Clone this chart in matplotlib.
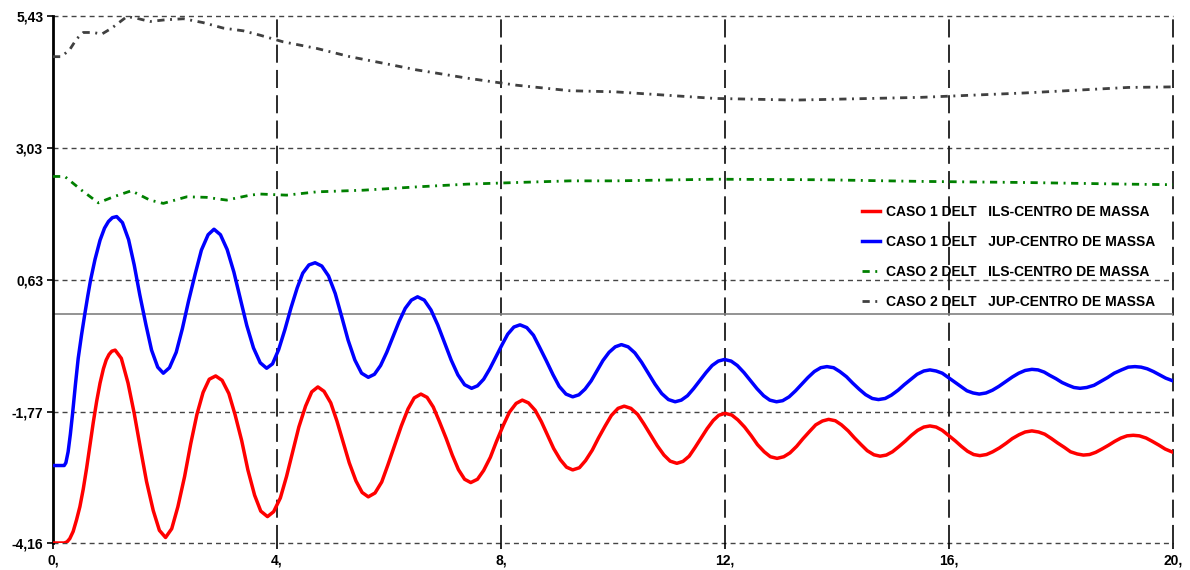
import matplotlib
matplotlib.use("Agg")
import matplotlib.pyplot as plt

plt.rcParams["font.family"] = ["Liberation Sans", "DejaVu Sans"]

# CASO 1 DELT ILS-CENTRO DE MASSA (red)
ils1_x = [0.00, 0.20, 0.25, 0.30, 0.36, 0.42, 0.48, 0.54, 0.60, 0.66, 0.72, 0.78, 0.84, 0.90, 0.95, 1.00, 1.05, 1.11,
          1.22, 1.34, 1.45, 1.56, 1.67, 1.79, 1.90, 2.01,
          2.12, 2.23, 2.35, 2.46, 2.57, 2.68, 2.79, 2.905,
          3.02, 3.14, 3.25, 3.37, 3.48, 3.60, 3.71, 3.83,
          3.94, 4.06, 4.17, 4.28, 4.39, 4.51, 4.62, 4.73,
          4.84, 4.96, 5.07, 5.18, 5.29, 5.41, 5.52, 5.63,
          5.75, 5.87, 5.98, 6.10, 6.22, 6.34, 6.45, 6.57,
          6.68, 6.79, 6.90, 7.02, 7.13, 7.24, 7.35, 7.46,
          7.58, 7.69, 7.81, 7.92, 8.04, 8.15, 8.27, 8.38,
          8.49, 8.61, 8.72, 8.83, 8.94, 9.06, 9.17, 9.28,
          9.40, 9.51, 9.63, 9.74, 9.86, 9.97, 10.09, 10.20,
          10.32, 10.44, 10.55, 10.67, 10.79, 10.91, 11.02, 11.14,
          11.25, 11.36, 11.46, 11.57, 11.68, 11.79, 11.89, 12.00,
          12.12, 12.23, 12.35, 12.47, 12.58, 12.70, 12.81, 12.93,
          13.05, 13.16, 13.28, 13.39, 13.51, 13.62, 13.74, 13.85,
          13.97, 14.08, 14.20, 14.31, 14.43, 14.54, 14.66, 14.77,
          14.88, 14.99, 15.10, 15.22, 15.33, 15.44, 15.55, 15.66,
          15.77, 15.88, 15.99, 16.11, 16.22, 16.33, 16.44, 16.55,
          16.67, 16.78, 16.90, 17.02, 17.13, 17.25, 17.36, 17.48,
          17.60, 17.71, 17.83, 17.94, 18.06, 18.17, 18.29, 18.40,
          18.51, 18.62, 18.73, 18.85, 18.96, 19.07, 19.18, 19.29,
          19.40, 19.52, 19.63, 19.75, 19.86, 20.00]
ils1_y = [-4.16, -4.16, -4.14, -4.08, -3.95, -3.74, -3.50, -3.18, -2.80, -2.38, -1.96, -1.58, -1.25, -0.99, -0.83, -0.73, -0.67, -0.65,
          -0.80, -1.25, -1.80, -2.43, -3.04, -3.57, -3.93, -4.06,
          -3.90, -3.50, -2.95, -2.35, -1.82, -1.42, -1.18, -1.12,
          -1.20, -1.44, -1.82, -2.30, -2.83, -3.29, -3.58, -3.68,
          -3.59, -3.34, -2.95, -2.50, -2.05, -1.67, -1.41, -1.32,
          -1.40, -1.61, -1.94, -2.32, -2.70, -3.03, -3.24, -3.32,
          -3.25, -3.05, -2.74, -2.385, -2.03, -1.72, -1.52, -1.45,
          -1.51, -1.685, -1.95, -2.255, -2.56, -2.825, -3.00, -3.06,
          -3.00, -2.84, -2.60, -2.31, -2.02, -1.78, -1.62, -1.56,
          -1.61, -1.745, -1.95, -2.195, -2.44, -2.645, -2.78, -2.83,
          -2.79, -2.66, -2.47, -2.25, -2.03, -1.84, -1.71, -1.67,
          -1.71, -1.82, -1.99, -2.19, -2.39, -2.56, -2.67, -2.71,
          -2.675, -2.58, -2.43, -2.255, -2.08, -1.93, -1.835, -1.80,
          -1.83, -1.92, -2.05, -2.21, -2.37, -2.50, -2.59, -2.62,
          -2.59, -2.52, -2.40, -2.265, -2.13, -2.01, -1.94, -1.91,
          -1.935, -2.01, -2.12, -2.245, -2.37, -2.48, -2.555, -2.58,
          -2.56, -2.50, -2.41, -2.305, -2.20, -2.11, -2.05, -2.03,
          -2.05, -2.11, -2.20, -2.30, -2.40, -2.49, -2.55, -2.57,
          -2.55, -2.50, -2.43, -2.345, -2.26, -2.19, -2.14, -2.12,
          -2.14, -2.18, -2.26, -2.34, -2.42, -2.50, -2.54, -2.56,
          -2.55, -2.51, -2.45, -2.38, -2.31, -2.25, -2.21, -2.20,
          -2.21, -2.25, -2.31, -2.38, -2.45, -2.51]

# CASO 1 DELT JUP-CENTRO DE MASSA (blue)
jup1_x = [0.00, 0.20, 0.23, 0.27, 0.31, 0.35, 0.40, 0.45, 0.51, 0.57, 0.62, 0.67, 0.75, 0.84, 0.92, 0.99, 1.06, 1.137,
          1.24, 1.35, 1.45, 1.55, 1.66, 1.76, 1.87, 1.97,
          2.08, 2.20, 2.31, 2.42, 2.54, 2.65, 2.77, 2.875,
          2.99, 3.11, 3.23, 3.345, 3.46, 3.58, 3.70, 3.815,
          3.92, 4.03, 4.14, 4.25, 4.36, 4.46, 4.57, 4.68,
          4.80, 4.92, 5.04, 5.155, 5.27, 5.39, 5.51, 5.63,
          5.74, 5.85, 5.96, 6.07, 6.18, 6.29, 6.40, 6.51,
          6.63, 6.75, 6.87, 6.99, 7.11, 7.23, 7.35, 7.475,
          7.58, 7.69, 7.80, 7.91, 8.02, 8.12, 8.23, 8.34,
          8.46, 8.58, 8.69, 8.81, 8.93, 9.04, 9.16, 9.28,
          9.39, 9.50, 9.61, 9.715, 9.82, 9.93, 10.04, 10.15,
          10.27, 10.39, 10.51, 10.63, 10.75, 10.87, 10.99, 11.11,
          11.22, 11.33, 11.44, 11.55, 11.66, 11.77, 11.88, 11.99,
          12.11, 12.22, 12.34, 12.455, 12.57, 12.69, 12.80, 12.92,
          13.03, 13.145, 13.26, 13.37, 13.48, 13.595, 13.71, 13.82,
          13.94, 14.05, 14.17, 14.28, 14.40, 14.51, 14.63, 14.74,
          14.86, 14.97, 15.09, 15.20, 15.32, 15.43, 15.55, 15.66,
          15.77, 15.88, 15.99, 16.10, 16.21, 16.32, 16.43, 16.54,
          16.66, 16.775, 16.89, 17.01, 17.13, 17.245, 17.36, 17.48,
          17.59, 17.70, 17.80, 17.91, 18.02, 18.13, 18.23, 18.34,
          18.46, 18.59, 18.71, 18.83, 18.95, 19.08, 19.20, 19.32,
          19.43, 19.54, 19.65, 19.76, 19.87, 20.00]
jup1_y = [-2.75, -2.75, -2.70, -2.50, -2.18, -1.80, -1.28, -0.80, -0.37, 0.02, 0.33, 0.62, 1.00, 1.35, 1.57, 1.69, 1.76, 1.78,
          1.67, 1.36, 0.90, 0.355, -0.19, -0.65, -0.96, -1.07,
          -0.97, -0.69, -0.26, 0.24, 0.74, 1.17, 1.45, 1.55,
          1.45, 1.18, 0.77, 0.285, -0.20, -0.61, -0.88, -0.98,
          -0.90, -0.64, -0.28, 0.12, 0.48, 0.75, 0.90, 0.94,
          0.88, 0.70, 0.38, -0.04, -0.47, -0.83, -1.07, -1.145,
          -1.09, -0.93, -0.69, -0.41, -0.13, 0.11, 0.26, 0.32,
          0.26, 0.08, -0.19, -0.51, -0.83, -1.10, -1.28, -1.345,
          -1.30, -1.18, -0.99, -0.77, -0.55, -0.36, -0.23, -0.19,
          -0.24, -0.38, -0.60, -0.845, -1.10, -1.31, -1.45, -1.50,
          -1.464, -1.36, -1.21, -1.025, -0.84, -0.69, -0.59, -0.55,
          -0.59, -0.70, -0.87, -1.07, -1.27, -1.44, -1.55, -1.59,
          -1.56, -1.48, -1.35, -1.205, -1.06, -0.93, -0.85, -0.82,
          -0.85, -0.93, -1.06, -1.205, -1.35, -1.48, -1.56, -1.59,
          -1.57, -1.50, -1.39, -1.27, -1.15, -1.04, -0.97, -0.95,
          -0.97, -1.04, -1.135, -1.25, -1.365, -1.46, -1.53, -1.55,
          -1.53, -1.47, -1.38, -1.28, -1.18, -1.09, -1.03, -1.01,
          -1.03, -1.07, -1.15, -1.23, -1.31, -1.39, -1.43, -1.45,
          -1.43, -1.38, -1.31, -1.225, -1.14, -1.07, -1.02, -1.00,
          -1.01, -1.05, -1.11, -1.17, -1.24, -1.29, -1.33, -1.345,
          -1.33, -1.29, -1.22, -1.15, -1.07, -1.01, -0.96, -0.95,
          -0.96, -0.99, -1.04, -1.10, -1.16, -1.21]

# CASO 2 DELT ILS-CENTRO DE MASSA (green)
ils2_x = [0.00, 0.21, 0.51, 0.81, 1.08, 1.40, 1.73, 1.97, 2.39, 2.74, 3.10,
          3.52, 3.70, 4.17, 4.71, 5.54, 6.49, 7.39, 8.28, 9.23, 10.04,
          11.82, 13.73, 15.51, 17.36, 19.20, 20.00]
ils2_y = [2.51, 2.51, 2.26, 2.03, 2.14, 2.25, 2.08, 2.02, 2.14, 2.13, 2.08,
          2.17, 2.19, 2.17, 2.23, 2.26, 2.32, 2.37, 2.40, 2.43, 2.43,
          2.46, 2.45, 2.42, 2.40, 2.37, 2.36]

# CASO 2 DELT JUP-CENTRO DE MASSA (dark grey)
jup2_x = [0.00, 0.15, 0.30, 0.42, 0.54, 0.72, 0.87, 1.05, 1.32, 1.49, 1.73,
          2.00, 2.33, 2.68, 3.04, 3.40, 3.70, 4.11, 4.71, 5.30, 5.90, 6.49,
          7.39, 8.28, 9.23, 10.04, 11.82, 13.25, 13.73, 15.51, 17.36, 19.20, 20.00]
jup2_y = [4.69, 4.69, 4.82, 5.01, 5.13, 5.13, 5.10, 5.21, 5.42, 5.39, 5.33,
          5.36, 5.38, 5.31, 5.21, 5.16, 5.08, 4.96, 4.84, 4.69, 4.57, 4.45,
          4.30, 4.17, 4.07, 4.05, 3.93, 3.90, 3.91, 3.95, 4.03, 4.13, 4.14]

labels = ["CASO 1 DELT   ILS-CENTRO DE MASSA",
          "CASO 1 DELT   JUP-CENTRO DE MASSA",
          "CASO 2 DELT   ILS-CENTRO DE MASSA",
          "CASO 2 DELT   JUP-CENTRO DE MASSA"]

y_ticks = [-4.16, -1.77, 0.63, 3.03, 5.43]
y_tick_labels = ["-4,16", "-1,77", "0,63", "3,03", "5,43"]
x_ticks = [0, 4, 8, 12, 16, 20]
x_tick_labels = ["0,", "4,", "8,", "12,", "16,", "20,"]

fig = plt.figure(figsize=(11.9, 5.7), dpi=100)
ax = fig.add_axes([53 / 1190, 27 / 570, 1120 / 1190, 527 / 570])

ax.set_xlim(0, 20)
ax.set_ylim(-4.16, 5.43)

# grid: short dashes for y levels, long dashes for x levels, solid zero line
for yv in y_ticks:
    ax.axhline(yv, color="#444444", lw=1.0, dashes=(3.6, 2.9), zorder=1, clip_on=False)
for xv in x_ticks[1:]:
    ax.axvline(xv, color="#1a1a1a", lw=1.3, dashes=(10, 4), zorder=1, clip_on=False)
ax.axhline(0, color="#808080", lw=1.2, zorder=1)

ax.plot(ils1_x, ils1_y, color="#ff0000", lw=2.5, label=labels[0], zorder=3)
ax.plot(jup1_x, jup1_y, color="#0000ff", lw=2.5, label=labels[1], zorder=3)
ax.plot(ils2_x, ils2_y, color="#008000", lw=2.0, dashes=(2.6, 2.0, 0.7, 2.0),
        label=labels[2], zorder=3)
ax.plot(jup2_x, jup2_y, color="#404040", lw=2.0, dashes=(2.6, 2.0, 0.7, 2.0),
        label=labels[3], zorder=3)

for side in ["top", "right", "bottom"]:
    ax.spines[side].set_visible(False)
ax.spines["left"].set_linewidth(2.0)
ax.spines["left"].set_color("black")

ax.set_yticks(y_ticks)
ax.set_yticklabels(y_tick_labels, fontsize=10, fontweight="bold")
ax.set_xticks(x_ticks)
ax.set_xticklabels(x_tick_labels, fontsize=10, fontweight="bold")
ax.tick_params(axis="y", length=4, width=1.2, pad=3)
ax.tick_params(axis="x", length=4, width=1.2, pad=3.5)

ax.legend(loc="upper left", bbox_to_anchor=(0.711, 0.665), frameon=False,
          prop={"weight": "bold", "size": 10}, handlelength=1.3,
          handletextpad=0.45, labelspacing=1.15)

fig.savefig("out.png", dpi=100)
